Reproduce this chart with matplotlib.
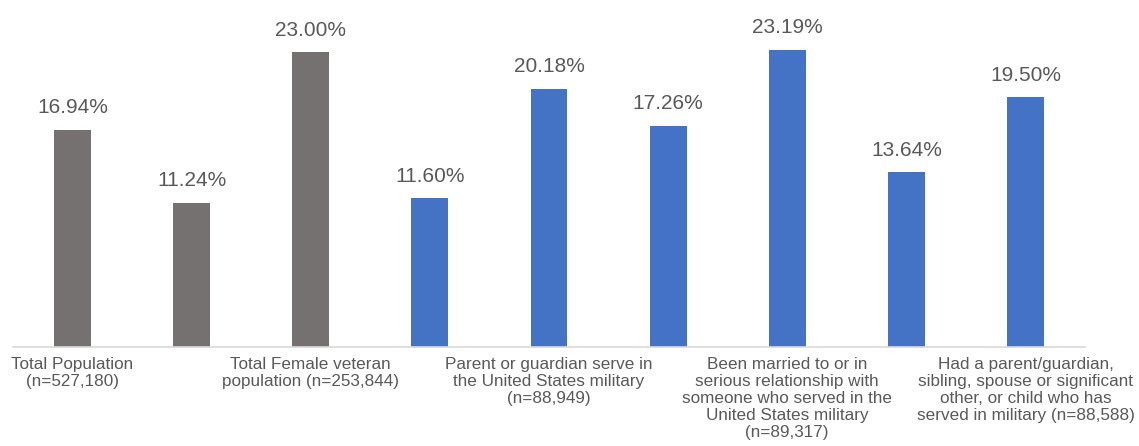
import matplotlib
matplotlib.use("Agg")
import matplotlib.pyplot as plt

# Share of respondents (%) for each group
values = [16.94, 11.24, 23.00, 11.60, 20.18, 17.26, 23.19, 13.64, 19.50]
groups = ["total", "total", "total", "sub", "sub", "sub", "sub", "sub", "sub"]
tick_labels = [
    "Total Population\n(n=527,180)",
    "",
    "Total Female veteran\npopulation (n=253,844)",
    "",
    "Parent or guardian serve in\nthe United States military\n(n=88,949)",
    "",
    "Been married to or in\nserious relationship with\nsomeone who served in the\nUnited States military\n(n=89,317)",
    "",
    "Had a parent/guardian,\nsibling, spouse or significant\nother, or child who has\nserved in military (n=88,588)",
]
value_labels = ["16.94%", "11.24%", "23.00%", "11.60%", "20.18%",
                "17.26%", "23.19%", "13.64%", "19.50%"]

palette = {"total": "#757171", "sub": "#4472C4"}
text_color = "#595959"

plt.rcParams["font.family"] = ["Liberation Sans", "DejaVu Sans"]

fig = plt.figure(figsize=(11.39, 4.46), dpi=100)
ax = fig.add_axes([13 / 1139, 1 - 347 / 446, 1072 / 1139, 347 / 446])

x = list(range(len(values)))
colors = [palette[g] for g in groups]
bars = ax.bar(x, values, width=0.31, color=colors, zorder=2)

for rect, lab in zip(bars, value_labels):
    ax.annotate(lab, (rect.get_x() + rect.get_width() / 2, rect.get_height()),
                xytext=(0, 12), textcoords="offset points",
                ha="center", va="baseline", fontsize=15, color=text_color)

ax.set_xlim(-0.5, len(values) - 0.5)
ax.set_ylim(0, 27.1)
ax.set_xticks(x)
ax.set_xticklabels(tick_labels, fontsize=12.3, color=text_color, linespacing=1.17)
ax.tick_params(axis="x", length=0, pad=7)
ax.set_yticks([])

for side in ("top", "right", "left"):
    ax.spines[side].set_visible(False)
ax.spines["bottom"].set_color("#d9d9d9")
ax.spines["bottom"].set_linewidth(1.2)

fig.savefig("out.png", dpi=100)
